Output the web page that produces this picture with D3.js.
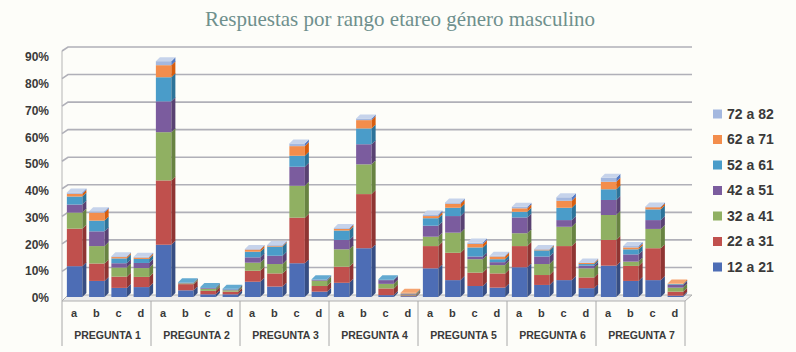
<!DOCTYPE html>
<html><head><meta charset="utf-8">
<script src="https://cdn.jsdelivr.net/npm/d3@7"></script>
<style>html,body{margin:0;padding:0;background:#fdfdf9;}svg{display:block;}</style>
</head><body><svg id="c" width="796" height="352"></svg>
<script>
const groups = ["PREGUNTA 1","PREGUNTA 2","PREGUNTA 3","PREGUNTA 4","PREGUNTA 5","PREGUNTA 6","PREGUNTA 7"];
const letters = ["a","b","c","d"];
const seriesNames = ["12 a 21","22 a 31","32 a 41","42 a 51","52 a 61","62 a 71","72 a 82"];
const seriesColors = ["#4d6db5","#c0504d","#90b062","#7b5c9e","#4a9cc9","#f38d4c","#a4b8df"];
const yTicks = [0,10,20,30,40,50,60,70,80,90];
// values in %, order: P1a..P1d, P2a..P2d, ..., P7a..P7d
const s12a21 = [11.5,6,3.4,3.7, 19.5,2.5,1,1, 5.7,3.9,12.6,2, 5.3,18.2,0.7,0.3, 10.7,6.3,4.1,3.5, 11.1,4.5,6.3,3.3, 11.7,6,6.3,0.5];
const s22a31 = [14,6.5,4.2,3.8, 24,2.3,1.3,1, 4.1,4.9,17,2.1, 6,20.2,2.5,0.3, 8.3,10.2,5,5.3, 7.9,3.7,12.7,4, 9.6,5.6,11.9,1.5];
const s32a41 = [6,6.5,3.4,3.3, 18,0.3,0.8,0.5, 3,3.5,11.9,2, 6.5,11.1,1.7,0.3, 3.5,7.5,5,3.1, 4.8,4.1,7.2,3.4, 9.3,1.6,7.2,1.5];
const s42a51 = [3,5.5,1.6,1.9, 11.5,0.2,0.3,0.3, 2,3.1,7.1,0.3, 3.5,7.5,1.4,0.2, 4.1,6.2,1,1.1, 5.9,2.8,2.5,1, 5.6,2.7,3.3,1];
const s52a61 = [3,4,1.8,1.5, 9,0.2,0.3,0.3, 2.1,3.4,4.1,0.2, 3.5,5.9,0.3,0.2, 2.8,3.1,3.4,1.1, 2.1,2.3,4.6,0.6, 4,1.9,4,0.3];
const s62a71 = [1,3,0.5,0.5, 4.5,0,0,0, 0.8,0.3,3.6,0, 0.6,3.1,0,0.3, 0.8,1.5,1.3,1, 1.3,0.3,2.6,0.4, 2.8,0.7,0.8,0.2];
const s72a82 = [0.5,0.5,0.3,0.3, 1.5,0,0,0, 0.2,0.3,1,0, 0.3,0.6,0,0, 0.6,0.5,0.5,0.3, 0.6,0.2,1.3,0.2, 1.5,0.5,0.3,0];
const seriesValues = [s12a21,s22a31,s32a41,s42a51,s52a61,s62a71,s72a82];

const svg = d3.select("#c");
const x0 = 62, x1 = 685;
const dX = 4, dY = 4;
const yBar = d3.scaleLinear().domain([0,90]).range([297,55.8]);
const yGrid = d3.scaleLinear().domain([0,90]).range([295,47]);
const yLab = d3.scaleLinear().domain([0,90]).range([298,57]);
const xG = d3.scaleBand().domain(groups).range([x0,x1]);
const xL = d3.scaleBand().domain(letters).range([0,xG.bandwidth()]);

// title
svg.append("text").attr("x",400).attr("y",26).attr("text-anchor","middle")
  .attr("font-family","Liberation Serif, serif").attr("font-size",21)
  .attr("fill","#6f908d").text("Respuestas por rango etareo género masculino");

// back wall / gridlines
const gl = svg.append("g");
gl.append("line").attr("x1",x0).attr("x2",x0).attr("y1",yGrid(90)+4).attr("y2",301)
  .attr("stroke","#b5b5b5").attr("stroke-width",1);
yTicks.forEach(t=>{
  if(t===0) return;
  const y = yGrid(t);
  gl.append("path").attr("d",`M${x0},${y+4}L${x0+6},${y}L${x1+7},${y}`)
    .attr("fill","none").attr("stroke","#b0b0b8").attr("stroke-width",1.6);
});
// floor
svg.append("path").attr("d",`M${x0},301L${x1},301L${x1+7},295L${x0+6},295Z`)
  .attr("fill","#ececec").attr("stroke","#b0b0b0").attr("stroke-width",1);

// y labels
yTicks.forEach(t=>{
  svg.append("text").attr("x",49).attr("y",yLab(t)).attr("dy","0.35em").attr("text-anchor","end")
    .attr("font-family","Liberation Sans, Arial, sans-serif").attr("font-weight","bold")
    .attr("font-size",12).attr("fill","#3a3a3a").text(t+"%");
});

// bars
const bw = 15.5;
function shade(c,k){const h=d3.hsl(c); h.l=Math.max(0,Math.min(1,h.l*k)); return h.formatHex();}
groups.forEach((g,gi)=>{
  letters.forEach((l,li)=>{
    const idx = gi*4+li;
    const cx = xG(g)+xL(l)+xL.bandwidth()/2+1.5;
    const xl = cx-bw/2;
    const bg = svg.append("g");
    let cum = 0, topColor = seriesColors[0];
    seriesValues.forEach((arr,si)=>{
      const v = arr[idx];
      if(v<=0) return;
      const yb = yBar(cum), yt = yBar(cum+v);
      bg.append("rect").attr("x",xl).attr("y",yt).attr("width",bw).attr("height",yb-yt)
        .attr("fill",seriesColors[si]);
      bg.append("path").attr("d",`M${xl+bw},${yb}L${xl+bw+dX},${yb-dY}L${xl+bw+dX},${yt-dY}L${xl+bw},${yt}Z`)
        .attr("fill",shade(seriesColors[si],0.72));
      cum += v; topColor = seriesColors[si];
    });
    const yt = yBar(cum);
    bg.append("path").attr("d",`M${xl},${yt}L${xl+dX},${yt-dY}L${xl+bw+dX},${yt-dY}L${xl+bw},${yt}Z`)
      .attr("fill",shade(topColor,1.12));
  });
});

// category axis
const ax = svg.append("g").attr("font-family","Liberation Sans, Arial, sans-serif")
  .attr("font-weight","bold").attr("fill","#3a3a3a");
groups.forEach((g,gi)=>{
  ax.append("line").attr("x1",xG(g)).attr("x2",xG(g)).attr("y1",301).attr("y2",346)
    .attr("stroke","#a8a8a8").attr("stroke-width",1);
  letters.forEach(l=>{
    ax.append("text").attr("x",xG(g)+xL(l)+xL.bandwidth()/2+1).attr("y",317).attr("text-anchor","middle")
      .attr("font-size",11).text(l);
  });
  ax.append("text").attr("x",xG(g)+xG.bandwidth()/2+1).attr("y",339).attr("text-anchor","middle")
    .attr("font-size",10.5).text(g);
});
ax.append("line").attr("x1",x1).attr("x2",x1).attr("y1",301).attr("y2",346)
  .attr("stroke","#a8a8a8").attr("stroke-width",1);

// legend
const lg = svg.append("g").attr("font-family","Liberation Sans, Arial, sans-serif");
const legOrder = seriesNames.map((n,i)=>i).reverse();
legOrder.forEach((si,k)=>{
  const y = 114 + k*25.5;
  lg.append("rect").attr("x",713).attr("y",y-4.5).attr("width",9).attr("height",9).attr("fill",seriesColors[si]);
  lg.append("text").attr("x",727).attr("y",y).attr("dy","0.35em").attr("font-size",14)
    .attr("font-weight","bold").attr("fill","#3a3a3a").text(seriesNames[si]);
});
</script></body></html>
